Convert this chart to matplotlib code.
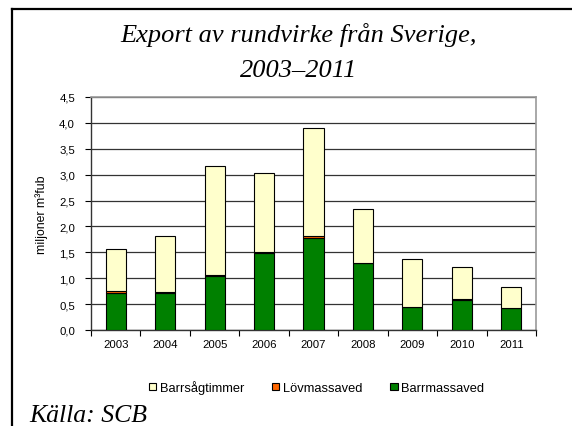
import matplotlib
matplotlib.use("Agg")
import matplotlib.pyplot as plt
from matplotlib.patches import Patch
from matplotlib.lines import Line2D
import numpy as np

years = ["2003", "2004", "2005", "2006", "2007", "2008", "2009", "2010", "2011"]
barrmassaved = [0.72, 0.71, 1.04, 1.49, 1.77, 1.29, 0.44, 0.58, 0.42]
lovmassaved = [0.04, 0.03, 0.02, 0.01, 0.04, 0.01, 0.01, 0.01, 0.01]
barrsagtimmer = [0.80, 1.07, 2.11, 1.54, 2.09, 1.03, 0.92, 0.63, 0.41]
yticks = [0.0, 0.5, 1.0, 1.5, 2.0, 2.5, 3.0, 3.5, 4.0, 4.5]

c_sag = "#FFFFCC"
c_lov = "#FF6600"
c_barr = "#008000"

fig = plt.figure(figsize=(5.72, 4.27), dpi=100)
W, H = 572, 427
ax = fig.add_axes([91 / W, 1 - 331 / H, (536 - 91) / W, (331 - 98) / H])

x = np.arange(len(years))
bw = 0.405
ax.bar(x, barrmassaved, bw, color=c_barr, edgecolor="black", linewidth=0.8, zorder=3)
b2 = np.array(barrmassaved)
ax.bar(x, lovmassaved, bw, bottom=b2, color=c_lov, edgecolor="black", linewidth=0.8, zorder=3)
b3 = b2 + np.array(lovmassaved)
ax.bar(x, barrsagtimmer, bw, bottom=b3, color=c_sag, edgecolor="black", linewidth=0.8, zorder=3)

ax.set_xlim(-0.5, len(years) - 0.5)
ax.set_ylim(0, 4.5)
ax.set_yticks(yticks)
ax.set_yticklabels([f"{v:.1f}".replace(".", ",") for v in yticks])
ax.set_xticks(x)
ax.set_xticklabels(years)
ax.set_xticks(np.arange(len(years) + 1) - 0.5, minor=True)
ax.tick_params(axis="x", which="major", length=0, labelsize=8.2, pad=6.5)
ax.tick_params(axis="x", which="minor", length=4, width=0.8, direction="out", color="black")
ax.tick_params(axis="y", length=4, width=0.8, direction="out", labelsize=8.2, pad=7.5)
for lab in ax.get_xticklabels() + ax.get_yticklabels():
    lab.set_fontfamily("Liberation Sans")

ax.grid(axis="y", color="#333333", linewidth=0.9, zorder=0)
ax.set_axisbelow(True)
for s in ["top", "right"]:
    ax.spines[s].set_color("#999999")
    ax.spines[s].set_linewidth(1.2)
for s in ["left", "bottom"]:
    ax.spines[s].set_color("#333333")
    ax.spines[s].set_linewidth(1.0)

ax.set_ylabel("miljoner m³fub", fontsize=8.8, family="Liberation Sans", labelpad=8)

fig.text(299 / W, 1 - 42 / H, "Export av rundvirke från Sverige,", ha="center", va="baseline",
         fontsize=19, family="Liberation Serif", style="italic")
fig.text(299 / W, 1 - 77 / H, "2003–2011", ha="center", va="baseline",
         fontsize=19, family="Liberation Serif", style="italic")
fig.text(29 / W, 1 - 422 / H, "Källa: SCB", ha="left", va="baseline",
         fontsize=18.5, family="Liberation Serif", style="italic")

# outer border (left and top only visible)
fig.add_artist(Line2D([12 / W, 12 / W], [0, 1 - 10 / H], transform=fig.transFigure,
                      color="black", linewidth=1.6))
fig.add_artist(Line2D([12 / W, 1], [1 - 10 / H, 1 - 10 / H], transform=fig.transFigure,
                      color="black", linewidth=1.6))

handles = [Patch(facecolor=c_sag, edgecolor="black", linewidth=0.8, label="Barrsågtimmer"),
           Patch(facecolor=c_lov, edgecolor="black", linewidth=0.8, label="Lövmassaved"),
           Patch(facecolor=c_barr, edgecolor="black", linewidth=0.8, label="Barrmassaved")]
fig.legend(handles=handles, loc="center", bbox_to_anchor=(316.5 / W, 1 - 388 / H), ncol=3,
           frameon=False, prop={"family": "Liberation Sans", "size": 9.3},
           handlelength=0.55, handleheight=0.55, handletextpad=0.25, columnspacing=2.2,
           borderpad=0, borderaxespad=0)

fig.savefig("out.png", dpi=100)
